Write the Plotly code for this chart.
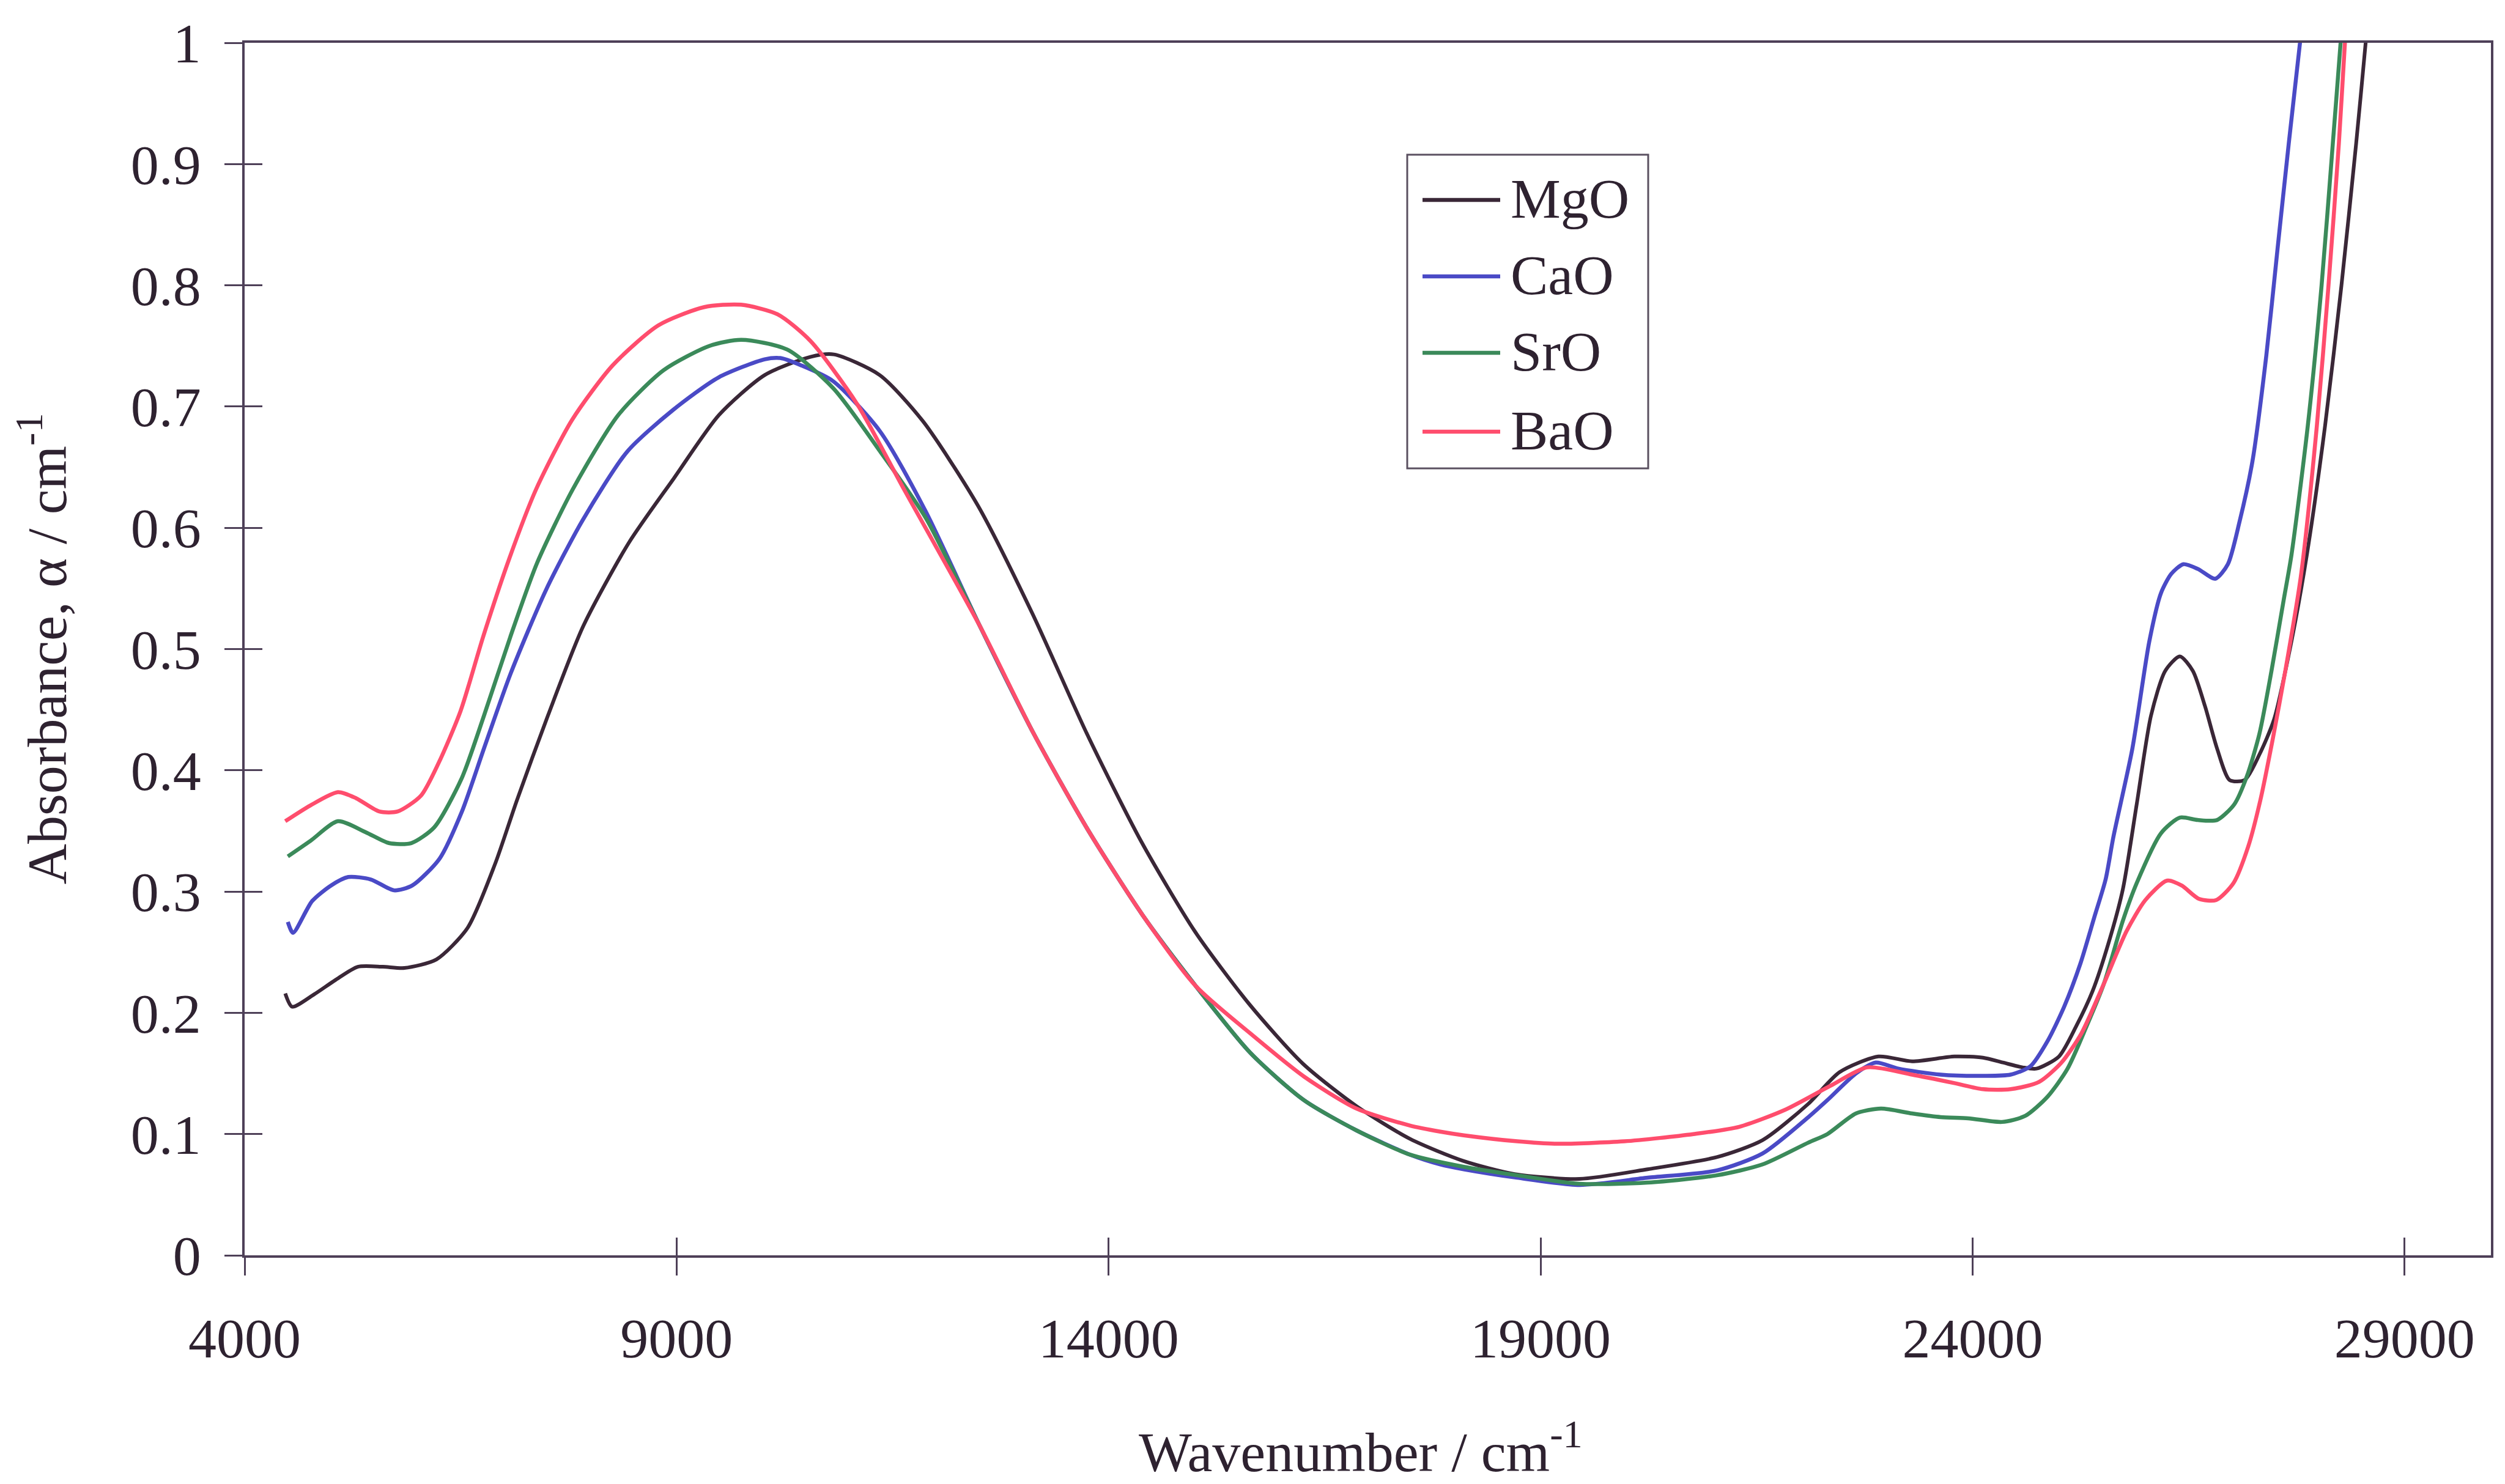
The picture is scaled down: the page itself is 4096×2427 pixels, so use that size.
import plotly.graph_objects as go

# ---------------- data ----------------
wn_mgo = [4470, 4550, 4800, 5050, 5310, 5600, 5850, 6220, 6580, 6900, 7150, 7510, 7920, 8450, 8970,
          9490, 10020, 10550, 10820, 11350, 11850, 12490, 13120, 13750, 14380, 15000, 15630, 16250,
          16870, 17490, 18100, 18700, 19450, 20240, 21040, 21570, 22100, 22460, 22910, 23300, 23790,
          24120, 24350, 24580, 24740, 25000, 25200, 25390, 25580, 25740, 25900, 26065, 26230, 26400,
          26550, 26690, 26830, 26975, 27150, 27320, 27490, 27690, 27870, 28080, 28270, 28440, 28550, 28600]
abs_mgo = [0.216, 0.205, 0.215, 0.227, 0.238, 0.238, 0.237, 0.244, 0.270, 0.323, 0.375, 0.445, 0.519, 0.588, 0.641,
           0.693, 0.726, 0.741, 0.743, 0.726, 0.688, 0.618, 0.529, 0.430, 0.341, 0.267, 0.207, 0.158,
           0.123, 0.096, 0.078, 0.067, 0.063, 0.071, 0.081, 0.095, 0.125, 0.151, 0.164, 0.160, 0.164,
           0.163, 0.159, 0.155, 0.154, 0.164, 0.189, 0.218, 0.259, 0.302, 0.372, 0.445, 0.482, 0.494,
           0.482, 0.453, 0.418, 0.392, 0.392, 0.413, 0.442, 0.506, 0.578, 0.684, 0.800, 0.917, 1.000, 1.040]

wn_cao = [4500, 4560, 4780, 5000, 5200, 5460, 5730, 5940, 6255, 6515, 6775, 7080, 7490, 7910, 8430,
          8955, 9485, 10020, 10200, 10440, 10810, 11350, 11880, 12510, 13135, 13760, 14390, 15010,
          15640, 16260, 16870, 17490, 17840, 18110, 18730, 19450, 20240, 21040, 21570, 22100, 22320,
          22650, 22880, 23140, 23630, 24120, 24440, 24670, 24870, 25060, 25250, 25410, 25540, 25630,
          25850, 26045, 26180, 26300, 26440, 26610, 26810, 26955, 27090, 27240, 27400, 27530, 27660,
          27790, 27850]
abs_cao = [0.275, 0.266, 0.292, 0.305, 0.312, 0.310, 0.301, 0.305, 0.327, 0.366, 0.419, 0.480, 0.549, 0.606, 0.663,
           0.697, 0.724, 0.739, 0.740, 0.734, 0.721, 0.680, 0.614, 0.519, 0.430, 0.351, 0.281, 0.222,
           0.167, 0.128, 0.103, 0.083, 0.075, 0.071, 0.064, 0.058, 0.064, 0.070, 0.084, 0.114, 0.128,
           0.150, 0.159, 0.154, 0.149, 0.148, 0.149, 0.156, 0.177, 0.205, 0.241, 0.279, 0.310, 0.345,
           0.418, 0.506, 0.546, 0.562, 0.570, 0.566, 0.558, 0.570, 0.605, 0.655, 0.742, 0.830, 0.917,
           1.000, 1.040]

wn_sro = [4500, 4765, 5080, 5400, 5670, 5930, 6195, 6510, 6770, 7075, 7385, 7800, 8325, 8850, 9380,
          9750, 10280, 10815, 11356, 11885, 12510, 13135, 13760, 14390, 15010, 15640, 16260, 16870,
          17490, 18110, 18730, 19450, 20240, 21040, 21570, 22100, 22320, 22650, 22940, 23300, 23630,
          23950, 24340, 24610, 24870, 25100, 25320, 25520, 25740, 25900, 26180, 26400, 26605, 26830,
          27030, 27175, 27320, 27460, 27600, 27690, 27880, 28040, 28170, 28260, 28300]
abs_sro = [0.329, 0.342, 0.358, 0.349, 0.340, 0.340, 0.353, 0.393, 0.445, 0.510, 0.571, 0.632, 0.693, 0.730, 0.750,
           0.755, 0.747, 0.715, 0.663, 0.608, 0.519, 0.430, 0.351, 0.281, 0.222, 0.167, 0.128, 0.103,
           0.083, 0.073, 0.066, 0.059, 0.060, 0.066, 0.075, 0.093, 0.100, 0.117, 0.121, 0.117, 0.114,
           0.113, 0.110, 0.115, 0.131, 0.154, 0.189, 0.224, 0.276, 0.307, 0.348, 0.361, 0.359, 0.359,
           0.372, 0.395, 0.430, 0.482, 0.540, 0.577, 0.684, 0.800, 0.917, 1.000, 1.040]

wn_bao = [4470, 4760, 5080, 5290, 5560, 5770, 6040, 6245, 6500, 6760, 7065, 7375, 7790, 8260, 8790,
          9320, 9745, 10170, 10550, 11090, 11630, 12510, 13135, 13760, 14390, 15010, 15640, 16260,
          16870, 17490, 17840, 18110, 18730, 19170, 19970, 20770, 21300, 21830, 22360, 22780, 23300,
          23790, 24120, 24440, 24770, 25030, 25260, 25520, 25780, 26000, 26250, 26420, 26620, 26820,
          27020, 27190, 27330, 27470, 27620, 27800, 27985, 28120, 28240, 28310, 28350]
abs_bao = [0.358, 0.371, 0.382, 0.377, 0.366, 0.366, 0.379, 0.406, 0.449, 0.510, 0.575, 0.632, 0.689, 0.734, 0.767,
           0.782, 0.784, 0.776, 0.754, 0.702, 0.632, 0.519, 0.430, 0.351, 0.281, 0.222, 0.183, 0.1475,
           0.121, 0.107, 0.102, 0.099, 0.094, 0.092, 0.094, 0.100, 0.106, 0.120, 0.140, 0.155, 0.149,
           0.142, 0.137, 0.137, 0.143, 0.159, 0.183, 0.224, 0.267, 0.293, 0.309, 0.305, 0.294, 0.293,
           0.307, 0.337, 0.375, 0.424, 0.482, 0.560, 0.684, 0.800, 0.917, 1.000, 1.040]

series_names = ["MgO", "CaO", "SrO", "BaO"]
series_colors = ["#3a2737", "#4a4ac6", "#3b8a5a", "#ff4d6d"]

x_tickvals = [4000, 9000, 14000, 19000, 24000, 29000]
x_ticktext = ["4000", "9000", "14000", "19000", "24000", "29000"]
y_tickvals = [0, 0.1, 0.2, 0.3, 0.4, 0.5, 0.6, 0.7, 0.8, 0.9, 1]
y_ticktext = ["0", "0.1", "0.2", "0.3", "0.4", "0.5", "0.6", "0.7", "0.8", "0.9", "1"]

x_title = "Wavenumber / cm<sup>-1</sup>"
y_title = "Absorbance, \u03b1 / cm<sup>-1</sup>"

# ---------------- figure ----------------
FONT = "Liberation Serif, Times New Roman, serif"
TXT = "#2e2230"
AX = "#4e4058"
W, H = 4096, 2427
L, R, T, B = 400, 23, 70, 374
PW, PH = W - L - R, H - T - B


def px_x(X):
    return (X - L) / PW


def px_y(Y):
    return (H - B - Y) / PH


fig = go.Figure()
all_x = [wn_mgo, wn_cao, wn_sro, wn_bao]
all_y = [abs_mgo, abs_cao, abs_sro, abs_bao]
widths = [6, 6.5, 6.5, 6.5]
for name, col, xs, ys, lw in zip(series_names, series_colors, all_x, all_y, widths):
    fig.add_trace(go.Scatter(x=xs, y=ys, name=name, mode="lines",
                             line=dict(color=col, width=lw, shape="spline", smoothing=0.7),
                             showlegend=False))

# invisible trace to realise the overlay axes carrying the inner half of the cross ticks
fig.add_trace(go.Scatter(x=[], y=[], xaxis="x2", yaxis="y2", showlegend=False, hoverinfo="skip"))

tick_font = dict(family=FONT, size=92, color=TXT)
fig.update_layout(
    width=W, height=H,
    margin=dict(l=L, r=R, t=T, b=B, pad=0),
    paper_bgcolor="white", plot_bgcolor="white",
    xaxis=dict(range=[4000, 30000], tickvals=x_tickvals, ticktext=x_ticktext,
               ticks="outside", ticklen=29, tickwidth=3, tickcolor=AX,
               showline=True, linecolor=AX, linewidth=3.5, mirror=True,
               showgrid=False, zeroline=False, tickfont=tick_font, ticklabelstandoff=24),
    yaxis=dict(range=[0, 1], tickvals=y_tickvals, ticktext=y_ticktext,
               ticks="outside", ticklen=29, tickwidth=3, tickcolor=AX,
               showline=True, linecolor=AX, linewidth=3.5, mirror=True,
               showgrid=False, zeroline=False, tickfont=tick_font, ticklabelstandoff=20),
    xaxis2=dict(range=[4000, 30000], overlaying="x", anchor="y", side="bottom",
                tickvals=x_tickvals, ticks="inside", ticklen=29, tickwidth=3, tickcolor=AX,
                showticklabels=False, showline=False, showgrid=False, zeroline=False),
    yaxis2=dict(range=[0, 1], overlaying="y", anchor="x", side="left",
                tickvals=y_tickvals, ticks="inside", ticklen=29, tickwidth=3, tickcolor=AX,
                showticklabels=False, showline=False, showgrid=False, zeroline=False),
    showlegend=False,
)

annotations = [
    dict(text=x_title, xref="paper", yref="paper", x=0.497, y=px_y(2368),
         xanchor="center", yanchor="middle", showarrow=False,
         font=dict(family=FONT, size=92, color=TXT)),
    dict(text=y_title, xref="paper", yref="paper", x=px_x(70), y=0.5,
         xanchor="center", yanchor="middle", textangle=-90, showarrow=False,
         font=dict(family=FONT, size=92, color=TXT)),
]

# legend box drawn by hand (long line samples as in the original)
shapes = [dict(type="rect", xref="paper", yref="paper",
               x0=px_x(2301), x1=px_x(2695), y0=px_y(766), y1=px_y(253),
               line=dict(color="#5a5060", width=3), fillcolor="white", layer="above")]
row_y = [327, 452, 577, 706]
for name, col, ry in zip(series_names, series_colors, row_y):
    shapes.append(dict(type="line", xref="paper", yref="paper",
                       x0=px_x(2326), x1=px_x(2453), y0=px_y(ry), y1=px_y(ry),
                       line=dict(color=col, width=6.5), layer="above"))
    annotations.append(dict(text=name, xref="paper", yref="paper", x=px_x(2468), y=px_y(ry - 2),
                            xanchor="left", yanchor="middle", showarrow=False,
                            font=dict(family=FONT, size=92, color=TXT)))

fig.update_layout(annotations=annotations, shapes=shapes)

fig.write_html("out.html")
